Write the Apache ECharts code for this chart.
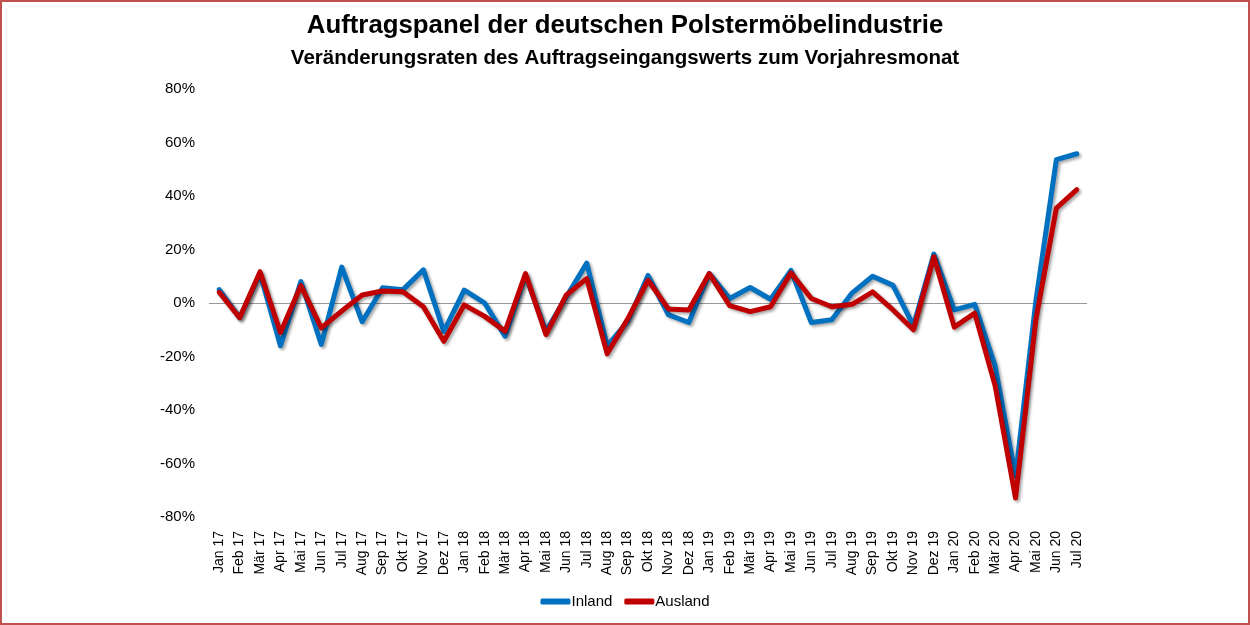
<!DOCTYPE html>
<html>
<head>
<meta charset="utf-8">
<script src="https://cdn.jsdelivr.net/npm/echarts@6/dist/echarts.min.js"></script>
<style>
html, body { margin: 0; padding: 0; background: #fff; }
#chart { width: 1246px; height: 621px; border: 2px solid #c0504d; }
</style>
</head>
<body>
<div id="chart"></div>
<script>
var months = ['Jan 17','Feb 17','Mär 17','Apr 17','Mai 17','Jun 17','Jul 17','Aug 17','Sep 17','Okt 17','Nov 17','Dez 17',
              'Jan 18','Feb 18','Mär 18','Apr 18','Mai 18','Jun 18','Jul 18','Aug 18','Sep 18','Okt 18','Nov 18','Dez 18',
              'Jan 19','Feb 19','Mär 19','Apr 19','Mai 19','Jun 19','Jul 19','Aug 19','Sep 19','Okt 19','Nov 19','Dez 19',
              'Jan 20','Feb 20','Mär 20','Apr 20','Mai 20','Jun 20','Jul 20'];

// Veränderung zum Vorjahresmonat in %
var inland  = [5, -5.5, 11, -16, 8, -15.5, 13.4, -7, 5.7, 5, 12.4, -10.6,
               4.8, 0, -12.4, 10.3, -10.6, 2.3, 14.9, -16, -7, 10.3, -4.4, -7.3,
               11, 1.7, 5.8, 1.4, 12.2, -7.3, -6.3, 3.8, 10, 6.6, -8.5, 18.3,
               -2.6, -0.5, -23.5, -64.8, 1, 53.6, 55.8];
var ausland = [4, -5.5, 11.7, -11, 6.5, -9.3, -3, 3, 4.5, 4.2, -1.4, -14.3,
               -0.7, -5, -10.6, 11, -11.8, 3, 9.1, -19, -6, 8.5, -2.2, -2.6,
               11, -1, -3.2, -1.4, 11.3, 1.7, -1.4, -0.5, 4.2, -2.6, -10, 17.3,
               -9, -3.8, -30.9, -72.9, -6, 35.5, 42.4];

var yTicks = [-80, -60, -40, -20, 0, 20, 40, 60, 80];

var chart = echarts.init(document.getElementById('chart'));

function lineSeries(name, data, color) {
    return {
        name: name,
        type: 'line',
        data: data,
        symbol: 'none',
        lineStyle: {
            color: color,
            width: 5,
            cap: 'round',
            join: 'round',
            shadowColor: 'rgba(0,0,0,0.35)',
            shadowBlur: 3,
            shadowOffsetX: 2,
            shadowOffsetY: 2
        },
        itemStyle: { color: color }
    };
}

var inlandSeries = lineSeries('Inland', inland, '#0070c0');
inlandSeries.markLine = {
    silent: true,
    symbol: 'none',
    label: { show: false },
    lineStyle: { color: '#999', width: 1, type: 'solid' },
    data: [{ yAxis: 0 }],
    z: 1
};

var option = {
    animation: false,
    textStyle: { fontFamily: 'Liberation Sans' },
    title: [
        {
            text: 'Auftragspanel der deutschen Polstermöbelindustrie',
            left: 'center', top: 6,
            textStyle: { fontSize: 25.8, fontWeight: 'bold', color: '#000', fontFamily: 'Liberation Sans' }
        },
        {
            text: 'Veränderungsraten des Auftragseingangswerts zum Vorjahresmonat',
            left: 'center', top: 41,
            textStyle: { fontSize: 20.5, fontWeight: 'bold', color: '#000', fontFamily: 'Liberation Sans' }
        }
    ],
    legend: {
        bottom: 9,
        left: 'center',
        icon: 'roundRect',
        itemWidth: 30,
        itemHeight: 6,
        itemGap: 12,
        textStyle: { fontSize: 15, color: '#000', padding: [0, 0, 0, -4] },
        data: ['Inland', 'Ausland']
    },
    grid: { left: 207, right: 161, top: 87, bottom: 106 },
    xAxis: {
        type: 'category',
        data: months,
        boundaryGap: true,
        axisLine: { show: false },
        axisTick: { show: false },
        axisLabel: {
            rotate: 90,
            interval: 0,
            margin: 14,
            fontSize: 14,
            color: '#000'
        }
    },
    yAxis: {
        type: 'value',
        min: yTicks[0],
        max: yTicks[yTicks.length - 1],
        interval: 20,
        axisLine: { show: false },
        axisTick: { show: false },
        splitLine: { show: false },
        axisLabel: {
            margin: 14,
            fontSize: 15,
            color: '#000',
            formatter: '{value}%'
        }
    },
    series: [
        inlandSeries,
        lineSeries('Ausland', ausland, '#c00000')
    ]
};

chart.setOption(option);
</script>
</body>
</html>
